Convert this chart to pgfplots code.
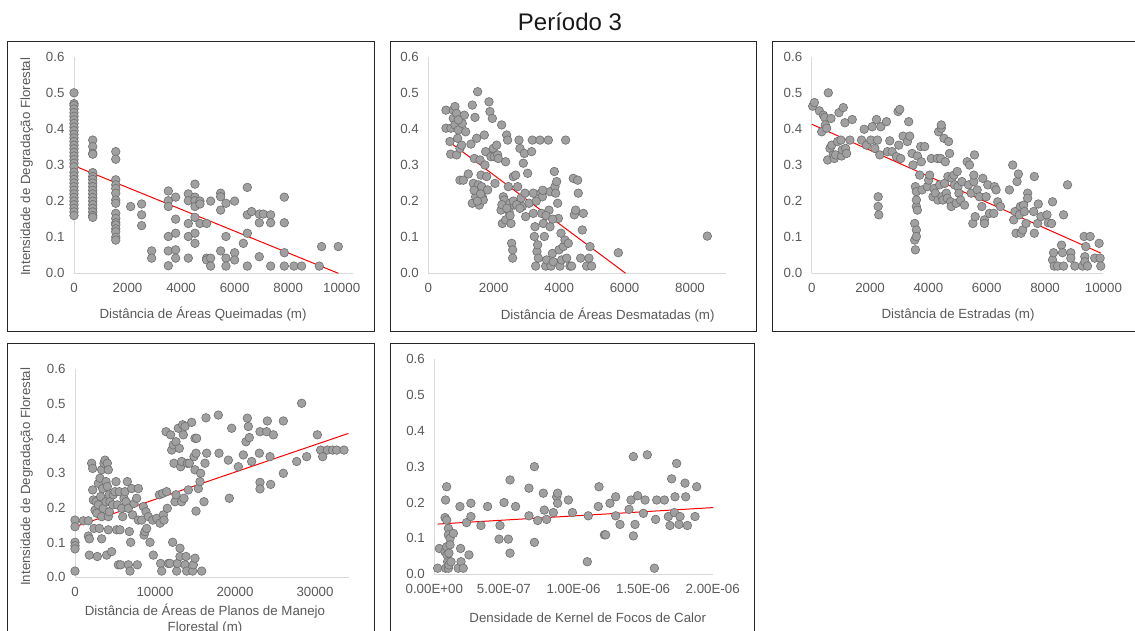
\documentclass[border=0pt]{standalone}
\usepackage{pgfplots}
\pgfplotsset{compat=1.18}
\usepackage{fontspec}
\setmainfont{Liberation Sans}
\definecolor{markfill}{RGB}{160,160,160}
\definecolor{markedge}{RGB}{110,110,110}
\definecolor{axisgray}{RGB}{217,217,217}
\definecolor{tickgray}{RGB}{89,89,89}
\newcommand{\fs}{\fontsize{13.3}{16}\selectfont}
\pgfplotsset{
  panel/.style={
    scale only axis, anchor=south west, clip=false,
    ymin=0, ymax=0.6, xmin=0,
    axis x line=bottom, axis y line=left,
    axis line style={-, draw=axisgray, line width=1pt},
    major tick length=0pt,
    scaled x ticks=false, scaled y ticks=false,
    ytick={0,0.1,0.2,0.3,0.4,0.5,0.6},
    yticklabels={0.0,0.1,0.2,0.3,0.4,0.5,0.6},
    tick label style={font=\fs, text=tickgray},
    xticklabel shift=6.5pt, yticklabel shift=6pt,
  },
  pts/.style={only marks, mark=*, mark size=4.3pt,
    mark options={fill=markfill, draw=markedge, line width=0.6pt}},
  trend/.style={red, line width=1pt, no marks},
}
\begin{document}
\begin{tikzpicture}
\path[use as bounding box] (0pt,0pt) rectangle (1135pt,630pt);
\clip (0pt,0pt) rectangle (1135pt,630pt);
% frames
\draw[black!85, line width=1pt] (7.3pt,588.5pt) rectangle (374pt,298.3pt);
\draw[black!85, line width=1pt] (390pt,588.5pt) rectangle (756pt,298.3pt);
\draw[black!85, line width=1pt] (772.3pt,588.5pt) rectangle (1150pt,298.3pt);
\draw[black!85, line width=1pt] (7.3pt,286pt) rectangle (374pt,-10pt);
\draw[black!85, line width=1pt] (390pt,286pt) rectangle (754pt,-10pt);
% title
\node[font=\fontsize{24}{28}\selectfont, text=black!90] at (570pt,608.3pt) {Período 3};
% ---------- Panel 1 ----------
\begin{axis}[panel, at={(74pt,356.7pt)}, width=279.2pt, height=216.6pt, xmax=10430,
  xtick={0,2000,4000,6000,8000,10000}, xticklabels={0,2000,4000,6000,8000,10000}]
\addplot[pts] table {
x y
0 0.50
0 0.47
0 0.465
0 0.455
0 0.445
0 0.435
0 0.425
0 0.415
0 0.405
0 0.395
0 0.385
0 0.375
0 0.365
0 0.355
0 0.345
0 0.335
0 0.325
0 0.315
0 0.305
0 0.295
0 0.28
0 0.27
0 0.26
0 0.25
0 0.24
0 0.23
0 0.22
0 0.21
0 0.20
0 0.19
0 0.18
0 0.17
0 0.16
700 0.369
700 0.351
700 0.332
700 0.33
700 0.279
700 0.268
700 0.26
700 0.25
700 0.24
700 0.23
700 0.22
700 0.21
700 0.20
700 0.19
700 0.18
700 0.17
700 0.16
700 0.155
1560 0.337
1560 0.316
1560 0.259
1560 0.245
1560 0.235
1560 0.222
1560 0.203
1560 0.194
1560 0.166
1560 0.152
1560 0.14
1560 0.134
1560 0.123
1560 0.115
1560 0.10
1560 0.092
2117 0.185
2527 0.192
2527 0.162
2527 0.132
2901 0.062
2901 0.042
3523 0.228
3523 0.201
3523 0.185
3523 0.102
3523 0.062
3523 0.021
3797 0.211
3797 0.150
3797 0.111
3797 0.065
3797 0.042
4270 0.22
4270 0.201
4270 0.138
4270 0.102
4270 0.042
4519 0.247
4519 0.211
4519 0.201
4519 0.185
4519 0.155
4519 0.111
4519 0.083
4706 0.2
4706 0.192
4706 0.138
4955 0.138
4955 0.042
4955 0.037
5105 0.2
5105 0.042
5105 0.02
5478 0.222
5478 0.212
5478 0.175
5478 0.062
5677 0.194
5677 0.102
5677 0.042
5677 0.02
6001 0.2
6001 0.057
6001 0.037
6325 0.083
6474 0.238
6474 0.162
6474 0.111
6474 0.02
6636 0.171
6922 0.164
6922 0.14
6922 0.046
7072 0.164
7346 0.162
7346 0.14
7346 0.02
7856 0.211
7856 0.14
7856 0.057
7856 0.02
8217 0.02
8503 0.02
9163 0.02
9250 0.074
9873 0.074
};
\addplot[trend] coordinates {(0,0.298) (9873,0)};
\end{axis}
% ---------- Panel 2 ----------
\begin{axis}[panel, at={(428.3pt,356.7pt)}, width=297.7pt, height=216.6pt, xmax=9100,
  xtick={0,2000,4000,6000,8000}, xticklabels={0,2000,4000,6000,8000}]
\addplot[pts] table {
x y
540 0.452
540 0.402
662 0.365
683 0.33
693 0.402
764 0.452
764 0.429
815 0.462
815 0.411
866 0.443
897 0.374
866 0.328
917 0.397
968 0.346
968 0.258
1039 0.415
1070 0.258
1101 0.438
1141 0.392
1019 0.355
917 0.425
1223 0.275
1304 0.358
1345 0.466
1376 0.249
1427 0.432
1406 0.318
1345 0.194
1447 0.212
1478 0.374
1508 0.503
1529 0.245
1559 0.189
1580 0.314
1610 0.272
1630 0.24
1651 0.212
1681 0.203
1712 0.383
1732 0.3
1753 0.337
1783 0.268
1814 0.231
1855 0.475
1885 0.448
1916 0.323
1957 0.429
1987 0.346
2018 0.323
2038 0.249
2089 0.355
2120 0.328
2140 0.318
2242 0.411
2222 0.175
2262 0.138
2293 0.212
2323 0.203
2364 0.309
2395 0.383
2425 0.369
2364 0.148
2446 0.24
2466 0.171
2497 0.194
2527 0.138
2548 0.083
2578 0.065
2578 0.042
2598 0.268
2629 0.189
2670 0.272
2731 0.24
2772 0.369
2802 0.346
2833 0.208
2873 0.185
2904 0.305
2935 0.332
2955 0.222
2976 0.157
3037 0.277
3078 0.194
3159 0.337
3180 0.369
3210 0.166
3210 0.222
3241 0.102
3261 0.129
3282 0.02
3322 0.06
3343 0.079
3363 0.042
3414 0.369
3444 0.222
3465 0.166
3485 0.212
3516 0.138
3547 0.102
3587 0.02
3618 0.037
3669 0.369
3689 0.175
3720 0.226
3720 0.129
3750 0.02
3791 0.055
3822 0.032
3852 0.282
3873 0.24
3893 0.222
3924 0.254
3954 0.194
3975 0.152
3995 0.065
4025 0.02
4056 0.111
4076 0.037
4127 0.074
4178 0.092
4198 0.369
4229 0.042
4280 0.083
4330 0.02
4381 0.02
4432 0.263
4463 0.162
4504 0.175
4565 0.258
4585 0.222
4656 0.042
4707 0.12
4738 0.166
4840 0.02
4911 0.042
4942 0.074
4993 0.02
5808 0.057
8529 0.103
1400 0.23
1500 0.20
1600 0.22
2250 0.19
2400 0.18
2500 0.16
2600 0.20
2700 0.19
2800 0.18
3300 0.20
3500 0.23
3600 0.16
3800 0.15
};
\addplot[trend] coordinates {(540,0.371) (6032,0)};
\end{axis}
% ---------- Panel 3 ----------
\begin{axis}[panel, at={(811.7pt,356.7pt)}, width=291.7pt, height=216.6pt, xmax=10000,
  xtick={0,2000,4000,6000,8000,10000}, xticklabels={0,2000,4000,6000,8000,10000}]
\addplot[pts] table {
x y
34 0.463
91 0.473
262 0.45
342 0.392
399 0.438
444 0.432
467 0.411
512 0.402
569 0.5
547 0.314
626 0.346
661 0.429
683 0.355
740 0.328
774 0.318
820 0.328
888 0.365
934 0.445
1002 0.369
1025 0.325
1048 0.342
1082 0.459
1139 0.417
1162 0.346
1196 0.332
1310 0.369
1389 0.426
1708 0.369
1799 0.399
1879 0.355
2028 0.369
2073 0.406
2164 0.346
2221 0.426
2255 0.369
2278 0.212
2278 0.185
2301 0.162
2335 0.328
2369 0.406
2563 0.42
2597 0.337
2677 0.367
2756 0.337
2904 0.323
2961 0.448
3018 0.454
2984 0.355
3052 0.318
3132 0.38
3280 0.365
3326 0.42
3360 0.38
3440 0.332
3474 0.3
3531 0.138
3531 0.092
3554 0.065
3554 0.24
3588 0.226
3588 0.185
3588 0.12
3588 0.102
3622 0.325
3588 0.203
3622 0.175
3702 0.272
3736 0.351
3759 0.309
3782 0.231
3873 0.351
3964 0.24
4009 0.258
4043 0.272
4100 0.318
4157 0.212
4191 0.235
4237 0.222
4305 0.318
4328 0.203
4351 0.392
4385 0.245
4419 0.318
4442 0.402
4442 0.411
4465 0.212
4499 0.203
4533 0.374
4556 0.249
4579 0.309
4613 0.222
4647 0.208
4670 0.268
4693 0.365
4727 0.332
4761 0.198
4784 0.185
4806 0.263
4875 0.272
4897 0.245
4954 0.194
4988 0.282
5011 0.24
5046 0.222
5103 0.203
5148 0.254
5239 0.189
5330 0.309
5376 0.245
5410 0.3
5467 0.222
5524 0.138
5558 0.254
5558 0.272
5581 0.328
5604 0.157
5672 0.231
5752 0.212
5832 0.185
5866 0.263
5923 0.148
5923 0.138
5980 0.212
6037 0.245
6094 0.166
6242 0.166
6265 0.24
6321 0.231
6378 0.198
6469 0.185
6777 0.231
6891 0.3
6925 0.148
6970 0.171
7005 0.111
7039 0.254
7085 0.275
7119 0.162
7153 0.185
7176 0.111
7232 0.12
7267 0.189
7290 0.171
7346 0.138
7403 0.222
7403 0.208
7608 0.171
7631 0.268
7631 0.111
7745 0.138
7768 0.192
7859 0.157
8064 0.162
8109 0.14
8223 0.138
8257 0.198
8257 0.037
8291 0.057
8314 0.02
8428 0.02
8564 0.078
8599 0.057
8633 0.02
8633 0.162
8770 0.245
8884 0.057
8884 0.042
9021 0.02
9283 0.02
9340 0.102
9363 0.046
9363 0.032
9397 0.074
9454 0.02
9545 0.102
9704 0.042
9853 0.083
9887 0.042
9910 0.02
};
\addplot[trend] coordinates {(0,0.413) (9910,0.056)};
\end{axis}
% ---------- Panel 4 ----------
\begin{axis}[panel, at={(75pt,52.7pt)}, width=273.6pt, height=208pt, xmax=34200,
  xtick={0,10000,20000,30000}, xticklabels={0,10000,20000,30000}]
\addplot[pts] table {
x y
0 0.165
0 0.146
0 0.101
0 0.091
0 0.082
0 0.018
1042 0.163
1667 0.163
1667 0.119
1792 0.111
1792 0.064
2083 0.329
2208 0.314
2208 0.252
2292 0.223
2375 0.141
2500 0.194
2625 0.218
2708 0.185
2792 0.06
2917 0.271
2917 0.209
3042 0.141
3125 0.286
3208 0.233
3333 0.31
3333 0.175
3333 0.111
3458 0.256
3542 0.199
3625 0.329
3750 0.338
3875 0.276
3875 0.218
3958 0.064
4042 0.329
4042 0.262
4167 0.31
4167 0.175
4167 0.137
4292 0.238
4292 0.189
4375 0.218
4583 0.074
4708 0.209
4792 0.238
5000 0.247
5125 0.276
5208 0.137
5292 0.209
5417 0.036
5542 0.247
5625 0.137
5708 0.036
5833 0.199
5958 0.175
6125 0.228
6250 0.247
6375 0.218
6542 0.276
6667 0.199
6667 0.036
6792 0.132
6875 0.018
6958 0.101
7083 0.256
7208 0.18
7375 0.213
7708 0.228
7792 0.036
7917 0.256
7917 0.165
8333 0.165
8542 0.204
8625 0.122
8750 0.132
8875 0.189
8958 0.141
9167 0.175
9375 0.101
9708 0.165
9792 0.064
10208 0.17
10542 0.238
10625 0.156
10708 0.04
10833 0.018
10958 0.242
11042 0.18
11125 0.165
11375 0.42
11458 0.247
11542 0.199
11667 0.04
11875 0.04
11958 0.411
12083 0.367
12208 0.101
12292 0.382
12375 0.329
12500 0.218
12625 0.391
12625 0.238
12708 0.018
12792 0.04
12917 0.43
13042 0.372
13125 0.084
13125 0.06
13208 0.319
13333 0.334
13333 0.218
13458 0.44
13542 0.411
13625 0.228
13750 0.435
13750 0.036
13875 0.06
13958 0.018
14042 0.329
14167 0.252
14292 0.329
14583 0.447
14708 0.018
14792 0.036
14875 0.348
15000 0.31
15000 0.401
15000 0.055
15125 0.358
15125 0.191
15208 0.401
15417 0.256
15625 0.276
15708 0.3
15833 0.018
16125 0.218
16250 0.329
16375 0.46
16458 0.358
17917 0.468
18000 0.358
19167 0.338
19292 0.228
19583 0.43
20417 0.319
21042 0.353
21375 0.391
21542 0.459
21667 0.435
21792 0.403
22083 0.334
23042 0.358
23125 0.42
23125 0.274
23125 0.255
23958 0.42
24042 0.451
24375 0.348
24458 0.268
24792 0.411
26042 0.451
26042 0.3
27708 0.334
28333 0.502
28958 0.348
30292 0.411
30708 0.367
30958 0.348
31542 0.367
32208 0.367
32708 0.367
33625 0.367
};
\addplot[trend] coordinates {(0,0.146) (34167,0.415)};
\end{axis}
% ---------- Panel 5 ----------
\begin{axis}[panel, at={(434.3pt,55.7pt)}, width=278.4pt, height=215.3pt, xmax=2e-6,
  xtick={0,5e-7,1e-6,1.5e-6,2e-6},
  xticklabels={0.00E+00,5.00E-07,1.00E-06,1.50E-06,2.00E-06}]
\addplot[pts] table {
x y
0.024e-6 0.017
0.036e-6 0.072
0.077e-6 0.063
0.077e-6 0.158
0.081e-6 0.207
0.081e-6 0.017
0.089e-6 0.244
0.089e-6 0.151
0.089e-6 0.077
0.091e-6 0.054
0.096e-6 0.035
0.101e-6 0.128
0.101e-6 0.11
0.101e-6 0.017
0.105e-6 0.026
0.105e-6 0.059
0.113e-6 0.1
0.113e-6 0.082
0.12e-6 0.035
0.137e-6 0.114
0.172e-6 0.017
0.184e-6 0.189
0.189e-6 0.072
0.192e-6 0.035
0.208e-6 0.017
0.232e-6 0.144
0.249e-6 0.054
0.263e-6 0.161
0.263e-6 0.198
0.335e-6 0.136
0.383e-6 0.189
0.465e-6 0.098
0.472e-6 0.136
0.501e-6 0.2
0.532e-6 0.098
0.544e-6 0.059
0.544e-6 0.263
0.584e-6 0.189
0.68e-6 0.24
0.68e-6 0.163
0.719e-6 0.3
0.719e-6 0.089
0.743e-6 0.15
0.783e-6 0.226
0.79e-6 0.179
0.807e-6 0.153
0.855e-6 0.172
0.879e-6 0.216
0.886e-6 0.226
0.886e-6 0.198
0.963e-6 0.207
0.992e-6 0.172
1.099e-6 0.035
1.106e-6 0.163
1.178e-6 0.189
1.183e-6 0.244
1.222e-6 0.11
1.231e-6 0.11
1.262e-6 0.198
1.303e-6 0.216
1.303e-6 0.163
1.334e-6 0.139
1.399e-6 0.181
1.413e-6 0.207
1.43e-6 0.328
1.43e-6 0.107
1.442e-6 0.139
1.461e-6 0.219
1.502e-6 0.17
1.514e-6 0.207
1.53e-6 0.333
1.581e-6 0.017
1.59e-6 0.153
1.598e-6 0.207
1.653e-6 0.207
1.681e-6 0.161
1.693e-6 0.136
1.705e-6 0.266
1.725e-6 0.172
1.729e-6 0.216
1.741e-6 0.309
1.758e-6 0.139
1.765e-6 0.161
1.801e-6 0.254
1.806e-6 0.216
1.818e-6 0.136
1.873e-6 0.161
1.885e-6 0.244
};
\addplot[trend] coordinates {(0.024e-6,0.14) (2.005e-6,0.186)};
\end{axis}
% axis titles
\node[font=\fs, text=tickgray] at (203pt,316pt) {Distância de Áreas Queimadas (m)};
\node[font=\fs, text=tickgray] at (607.7pt,315pt) {Distância de Áreas Desmatadas (m)};
\node[font=\fs, text=tickgray] at (958pt,315pt) {Distância de Estradas (m)};
\node[font=\fs, text=tickgray, align=center] at (205pt,11pt) {Distância de Áreas de Planos de Manejo\\Florestal (m)};
\node[font=\fs, text=tickgray] at (587.7pt,12.3pt) {Densidade de Kernel de Focos de Calor};
\node[font=\fs, text=tickgray, rotate=90] at (26.7pt,463.3pt) {Intensidade de Degradação Florestal};
\node[font=\fs, text=tickgray, rotate=90] at (26.7pt,153.3pt) {Intensidade de Degradação Florestal};
\end{tikzpicture}
\end{document}
